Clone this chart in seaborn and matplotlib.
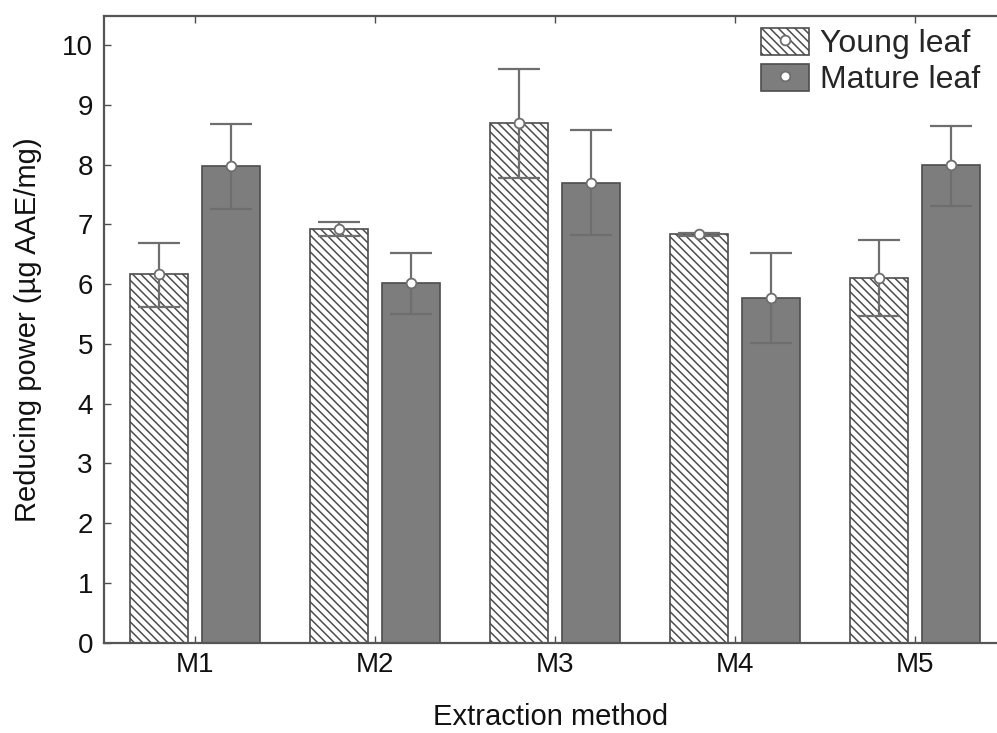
import pandas as pd
import matplotlib.pyplot as plt
import seaborn as sns
from matplotlib.patches import Patch
from matplotlib.lines import Line2D

# ------------------------------
# Data
# ------------------------------
methods = ["M1", "M2", "M3", "M4", "M5"]
leaves = ["Young leaf", "Mature leaf"]

young_mean = [6.17, 6.92, 8.70, 6.83, 6.10]
young_low = [5.62, 6.80, 7.78, 6.81, 5.46]
young_high = [6.69, 7.03, 9.60, 6.85, 6.73]

mature_mean = [7.97, 6.01, 7.69, 5.77, 8.00]
mature_low = [7.25, 5.50, 6.82, 5.01, 7.31]
mature_high = [8.68, 6.52, 8.57, 6.52, 8.65]

y_ticks = [0, 1, 2, 3, 4, 5, 6, 7, 8, 9, 10]

edge_col = "#4d4d4d"
err_col = "#6e6e6e"
dark_fill = "#7d7d7d"

df = pd.DataFrame({
    "method": methods * 2,
    "leaf": [leaves[0]] * 5 + [leaves[1]] * 5,
    "value": young_mean + mature_mean,
})

sns.set_style("white")
plt.rcParams["font.family"] = ["Liberation Sans", "DejaVu Sans"]
plt.rcParams["hatch.linewidth"] = 1.1

fig = plt.figure(figsize=(9.97, 7.33), dpi=100)
ax = fig.add_axes([0.1043, 0.1232, 0.8957, 0.8554])

sns.barplot(data=df, x="method", y="value", hue="leaf", order=methods,
            hue_order=leaves, palette={leaves[0]: "white", leaves[1]: dark_fill},
            width=0.8, gap=0.2, errorbar=None, edgecolor=edge_col,
            linewidth=1.2, legend=False, ax=ax)

bars = [p for p in ax.patches if p.get_height() > 0]
young_bars = bars[:5]
mature_bars = bars[5:10]
for p in young_bars:
    p.set_hatch("\\\\\\\\")

# error bars + mean markers
for group, mean, low, high in [(young_bars, young_mean, young_low, young_high),
                               (mature_bars, mature_mean, mature_low, mature_high)]:
    xs = [p.get_x() + p.get_width() / 2 for p in group]
    yerr = [[m - l for m, l in zip(mean, low)], [h - m for m, h in zip(mean, high)]]
    ax.errorbar(xs, mean, yerr=yerr, fmt="none", ecolor=err_col, elinewidth=1.6,
                capsize=15, capthick=1.6, zorder=4)
    ax.plot(xs, mean, "o", ms=7, mfc="white", mec=err_col, mew=1.3, zorder=5)

ax.set_xlim(-0.505, 4.456)
ax.set_ylim(0, 10.49)
ax.set_yticks(y_ticks)
ax.set_xlabel("Extraction method", fontsize=21, color="#111111", labelpad=18)
ax.set_ylabel("Reducing power (µg AAE/mg)", fontsize=21, color="#111111", labelpad=14)
ax.tick_params(axis="both", labelsize=20, colors="#111111", direction="in",
               length=5, width=1, color=edge_col)
ax.tick_params(axis="x", top=True, bottom=True, pad=7)
ax.tick_params(axis="y", left=True, pad=8)

for side in ["left", "top", "bottom"]:
    ax.spines[side].set_color("#555555")
    ax.spines[side].set_linewidth(1.6)
ax.spines["right"].set_visible(False)

# legend
h_young = (Patch(facecolor="white", edgecolor=edge_col, hatch="\\\\\\\\", linewidth=1.2),
           Line2D([], [], marker="o", ls="none", ms=7, mfc="white", mec=err_col, mew=1.3))
h_mature = (Patch(facecolor=dark_fill, edgecolor=edge_col, linewidth=1.2),
            Line2D([], [], marker="o", ls="none", ms=7, mfc="white", mec=err_col, mew=1.3))
ax.legend([h_young, h_mature], leaves, loc="upper right", frameon=False,
          bbox_to_anchor=(980 / 997, 1 - 28 / 733), bbox_transform=fig.transFigure,
          fontsize=23, handlelength=1.5, handleheight=0.9, handletextpad=0.35,
          labelspacing=0.15, borderpad=0, borderaxespad=0)

fig.savefig("out.png", dpi=100)
